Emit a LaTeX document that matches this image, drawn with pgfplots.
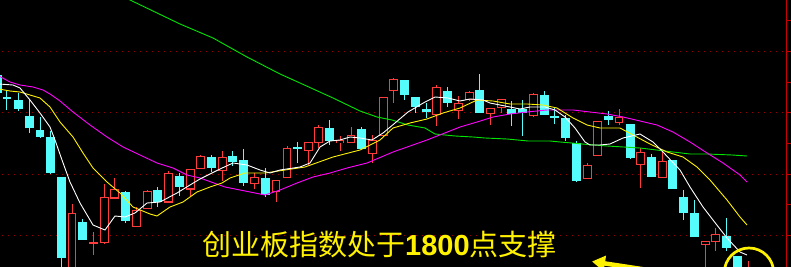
\documentclass[border=0pt]{standalone}
\usepackage{pgfplots}
\pgfplotsset{compat=1.18}
\usepackage{pgfplotstable}
\usepackage{fontspec}
\newfontfamily\cjk{Noto Sans CJK SC}
\newfontfamily\digits{Liberation Sans}
\usetikzlibrary{arrows.meta}
\definecolor{cy}{RGB}{84,252,252}
\definecolor{rd}{RGB}{255,60,60}
\definecolor{gridred}{RGB}{150,0,0}
\definecolor{axred}{RGB}{200,0,0}
\definecolor{mag}{RGB}{255,0,255}
\definecolor{grn}{RGB}{0,230,0}

% candles in screen units: x centre, high, low, body top, body bottom
\pgfplotstableread{
x h l t b
72 204 275 213 275
93.5 232 255 242 244
104.5 184 244 197 243
114.5 178 199 189 198.5
136.5 207 227 210 227
147.5 190 209 191 209
168.5 171 203 173 202.5
190.5 169 197 169 189.5
200.5 155 169 156 169
222.5 151 181 157 171
254.5 173 189 177 184
276 180 202 180 192
287 146 178 148 178
308.5 142 165 142 151
318.5 125 148 127 143
340 136 151 140 143
351 127 143 135 143
372.5 135 163 140 154.5
383.5 97 137 97 136
393.5 78 103 79 91
436.5 85 126 87 115
458.5 96 119 103 111
469.5 91 101 92 100.5
490.5 108 125 108 114.5
501.5 99 113 99 108.5
533.5 93 117 94 116
587.5 163 179 165 179
597.5 121 156 121 156
619 109 125 117 123
640.5 148 188 152 165
662.5 152 178 161 178
705.5 241 270 241 245
715.5 228 251 234 242
748 261 280 275 280
}\reddata

\pgfplotstableread{
x h l t b
-2.5 75 94 75 93
7 90 110 97.5 99
18.5 93 111 100 109.5
29.5 100 133 116 128
40 117 138 130 137
50.5 131 174 137 173
61.5 177 270 177 258
82.5 219 240 222 239.5
125.5 191 223 192 221
157.5 187 207 190 202
179.5 173 196 176 187
211.5 155 172 157 168
232.5 151 166 156 162
243.5 149 186 160 183
265.5 168 197 178 194.5
297.5 142 163 147 148.5
329.5 120 145 128 141
361.5 127 149 129 149
404.5 80 100 80 95
415.5 97 113 97 107.5
426.5 103 118 109 112
447.5 87 107 91 103
479.5 74 113 90 113
511.5 101 126 109 114
522.5 100 136 109 113
544.5 91 115 95 115
554.5 108 124 116.5 118
565.5 115 141 118 138
576.5 141 182 143 181
608.5 111 125 116 120
630.5 124 159 124 158
651.5 154 177 157 177
672.5 160 189 160 189
683.5 190 220 197 213
694.5 200 237 213 237
726.5 218 251 236 248
737.5 256 270 256 270
}\cyandata

\begin{document}
\begin{tikzpicture}
\begin{axis}[width=791pt,height=267pt,scale only axis,
  xmin=0,xmax=791,ymin=0,ymax=267,y dir=reverse,
  ticks=none,axis line style={draw=none},
  axis background/.style={fill=black},clip=true,
  candle/.style={draw=none, mark=none, forget plot}]

% grid
\pgfplotsinvokeforeach{51.5,112.5,174,235.5}{
  \draw[gridred, line width=0.9pt, dash pattern=on 1pt off 5pt] (axis cs:2,#1) -- (axis cs:786,#1);
}

% wicks
\addplot[candle, error bars/.cd, y dir=both, y explicit, error mark=none,
  error bar style={draw=rd, line width=1pt, line cap=butt}]
  table[x=x, y expr={(\thisrow{h}+\thisrow{l})/2}, y error expr={(\thisrow{l}-\thisrow{h})/2}] {\reddata};
\addplot[candle, error bars/.cd, y dir=both, y explicit, error mark=none,
  error bar style={draw=cy, line width=1pt, line cap=butt}]
  table[x=x, y expr={(\thisrow{h}+\thisrow{l})/2}, y error expr={(\thisrow{l}-\thisrow{h})/2}] {\cyandata};

% bodies
\addplot[candle, error bars/.cd, y dir=both, y explicit, error mark=none,
  error bar style={draw=cy, line width=8.6pt, line cap=butt}]
  table[x=x, y expr={(\thisrow{t}+\thisrow{b})/2}, y error expr={(\thisrow{b}-\thisrow{t})/2}] {\cyandata};
\addplot[candle, error bars/.cd, y dir=both, y explicit, error mark=none,
  error bar style={draw=rd, line width=8.6pt, line cap=butt}]
  table[x=x, y expr={(\thisrow{t}+\thisrow{b})/2}, y error expr={(\thisrow{b}-\thisrow{t})/2}] {\reddata};
\addplot[candle, error bars/.cd, y dir=both, y explicit, error mark=none,
  error bar style={draw=black, line width=6.2pt, line cap=butt}]
  table[x=x, y expr={(\thisrow{t}+\thisrow{b})/2}, y error expr={max((\thisrow{b}-\thisrow{t})/2-1.2,0)}] {\reddata};

% moving averages
\addplot[grn, line width=0.9pt] coordinates {(100,-14) (130,0) (180,24) (213,38) (247,57) (280,74) (300,83) (333,98) (360,111) (377,117) (392,120) (408,125) (425,128) (435,134) (455,136) (473,137) (485,138) (507,139) (528,141) (550,141) (560,142) (572,143) (582,144) (607,146) (640,148) (673,152) (690,154) (707,154) (732,155) (747,156)};
\addplot[mag, line width=0.9pt] coordinates {(-1,76) (10,82) (20,85) (33,87) (43,90) (50,94) (60,101) (73,112) (90,125) (107,137) (123,147) (140,155) (157,163) (173,168) (187,175) (200,178) (225,187) (240,190) (265,195) (280,190) (297,183) (313,177) (330,173) (347,168) (367,163) (393,152) (427,140) (460,127) (477,122) (493,117) (510,114) (527,112) (547,110) (573,110) (607,114) (623,117) (640,121) (657,125) (673,132) (690,142) (707,153) (723,163) (740,175) (747,182)};
\addplot[yellow, line width=0.9pt] coordinates {(-1,89) (10,91) (20,92) (30,95) (40,98) (50,107) (60,122) (73,137) (83,153) (93,168) (107,182) (120,193) (133,207) (150,214) (157,216) (170,207) (183,202) (197,192) (210,187) (222,183) (230,178) (245,173) (265,173) (285,170) (305,167) (333,157) (360,150) (380,140) (393,128) (410,123) (427,119) (443,113) (460,108) (477,100) (493,101) (510,104) (527,104) (543,105) (557,108) (573,118) (587,125) (600,128) (620,128) (633,135) (650,144) (667,152) (683,157) (697,167) (710,180) (727,200) (740,217) (747,225)};
\addplot[white, line width=0.9pt] coordinates {(-1,84) (13,85) (20,88) (30,100) (40,113) (50,127) (55,140) (62,160) (70,182) (80,203) (93,225) (105,230) (115,216) (125,217) (135,213) (147,203) (160,202) (177,193) (190,185) (200,179) (220,169) (233,163) (247,165) (260,170) (270,173) (280,170) (300,167) (310,163) (320,147) (330,141) (340,140) (350,137) (360,138) (372,140) (383,133) (395,123) (408,112) (425,102) (435,97) (448,98) (460,101) (470,99) (483,100) (490,103) (500,105) (510,107) (520,109) (530,107) (545,107) (555,110) (565,117) (575,128) (585,142) (590,145) (600,145) (610,144) (623,138) (640,134) (653,142) (663,152) (680,170) (690,187) (703,207) (713,220) (727,238) (740,252) (747,255)};

% right axis
\draw[axred, line width=1.2pt] (axis cs:786.8,0) -- (axis cs:786.8,267);
\pgfplotsinvokeforeach{21,51.7,82.3,112.7,143.3,174,204.7,235.3}{
  \draw[axred, line width=1pt] (axis cs:786.8,#1) -- (axis cs:791,#1);
}

% annotations
\node[anchor=base west, inner sep=0pt, text=yellow] at (axis cs:202,255.5)
  {\fontsize{29}{29}\selectfont\cjk 创业板指数处于{\digits\bfseries 1800}点支撑};
\draw[yellow, line width=2.7pt] (axis cs:749,272.7) circle [radius=24.7pt];
\draw[yellow, line width=4.5pt, -{Triangle[length=13pt, width=15pt]}] (axis cs:648,270) -- (axis cs:592,261.5);
\end{axis}
\pgfresetboundingbox
\useasboundingbox (current axis.south west) rectangle (current axis.north east);
\end{tikzpicture}
\end{document}
